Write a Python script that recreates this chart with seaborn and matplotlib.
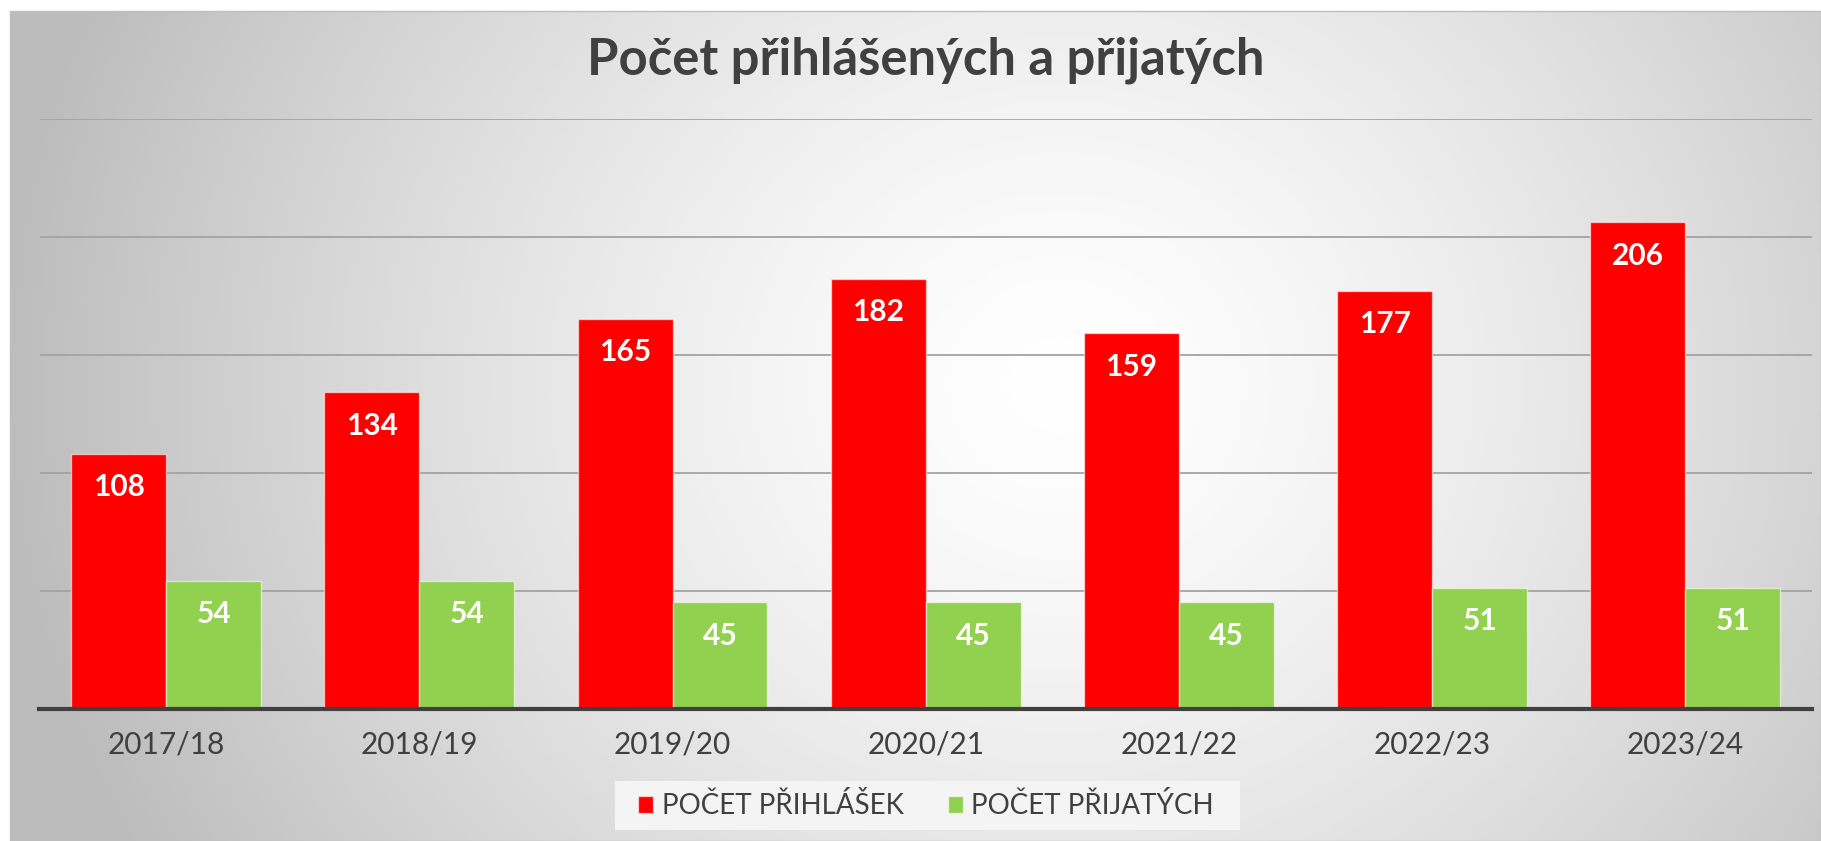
import numpy as np
import pandas as pd
import seaborn as sns
import matplotlib.pyplot as plt
from matplotlib.patches import Rectangle

# data
years = ['2017/18', '2018/19', '2019/20', '2020/21', '2021/22', '2022/23', '2023/24']
prihlasky = [108, 134, 165, 182, 159, 177, 206]
prijati = [54, 54, 45, 45, 45, 51, 51]
series = ['POČET PŘIHLÁŠEK', 'POČET PŘIJATÝCH']
colors = ['#FF0000', '#92D050']
title = 'Počet přihlášených a přijatých'

df = pd.DataFrame({
    'rok': years * 2,
    'pocet': prihlasky + prijati,
    'serie': [series[0]] * len(years) + [series[1]] * len(years),
})

plt.rcParams['font.family'] = ['Lato', 'DejaVu Sans']
W, H = 1821, 841
fig = plt.figure(figsize=(W / 100, H / 100), dpi=100)
fig.patch.set_facecolor('white')

# gradient background of the chart area
bg = fig.add_axes([10 / W, 0, 1 - 10 / W, 1 - 11 / H])
xx, yy = np.meshgrid(np.linspace(0, 1, 400), np.linspace(0, 1, 200))
r = np.sqrt(((xx - 0.58) / 0.55) ** 2 + ((yy - 0.45) / 1.1) ** 2)
shade = np.clip(1.0 - 0.24 * r ** 1.4, 0.74, 1.0)
bg.imshow(np.dstack([shade] * 3), aspect='auto', extent=(0, 1, 0, 1), origin='upper')
bg.set_xticks([])
bg.set_yticks([])
for s in bg.spines.values():
    s.set_color('#bdbdbd')
    s.set_linewidth(1)
bg.set_zorder(-10)

# legend background strip
fig.patches.append(Rectangle((615 / W, 1 - 830 / H), (1240 - 615) / W, 49 / H,
                             transform=fig.transFigure, facecolor='#f4f4f4',
                             edgecolor='none', zorder=-5))

ax = fig.add_axes([39.5 / W, 1 - 708.5 / H, (1812 - 39.5) / W, (708.5 - 118.5) / H])
ax.set_facecolor('none')

sns.barplot(data=df, x='rok', y='pocet', hue='serie', palette=colors, width=0.75,
            edgecolor=(1, 1, 1, 0.55), linewidth=1, saturation=1, ax=ax, zorder=3)

ax.set_ylim(0, 250)
ax.set_yticks([0, 50, 100, 150, 200, 250])
ax.set_yticklabels([])
ax.tick_params(axis='y', length=0)
ax.tick_params(axis='x', length=0, pad=16, labelsize=21.5, labelcolor='#404040')
ax.yaxis.grid(True, color='#a3a3a3', linewidth=1.3)
ax.set_axisbelow(True)
ax.set_xlabel('')
ax.set_ylabel('')
for side in ['top', 'left', 'right']:
    ax.spines[side].set_visible(False)
ax.spines['bottom'].set_color('#404040')
ax.spines['bottom'].set_linewidth(3)
ax.spines['bottom'].set_zorder(4)

# value labels inside the top of each bar
for cont in ax.containers:
    for rect in cont:
        h = rect.get_height()
        ax.annotate(f'{int(round(h))}', xy=(rect.get_x() + rect.get_width() / 2, h),
                    xytext=(0, -24), textcoords='offset points', ha='center',
                    va='center', color='white', fontsize=21.5, fontweight='bold', zorder=5)

handles, labels = ax.get_legend_handles_labels()
ax.get_legend().remove()
fig.legend(handles, labels, loc='center', bbox_to_anchor=(926 / W, 1 - 806 / H),
           ncol=2, frameon=False, fontsize=20, labelcolor='#404040',
           handlelength=0.55, handleheight=0.55, handletextpad=0.3, columnspacing=1.6)

fig.text(926 / W, 1 - 75 / H, title, ha='center', va='baseline', fontsize=36.5,
         fontweight='bold', color='#404040')

fig.savefig('out.png', dpi=100)
